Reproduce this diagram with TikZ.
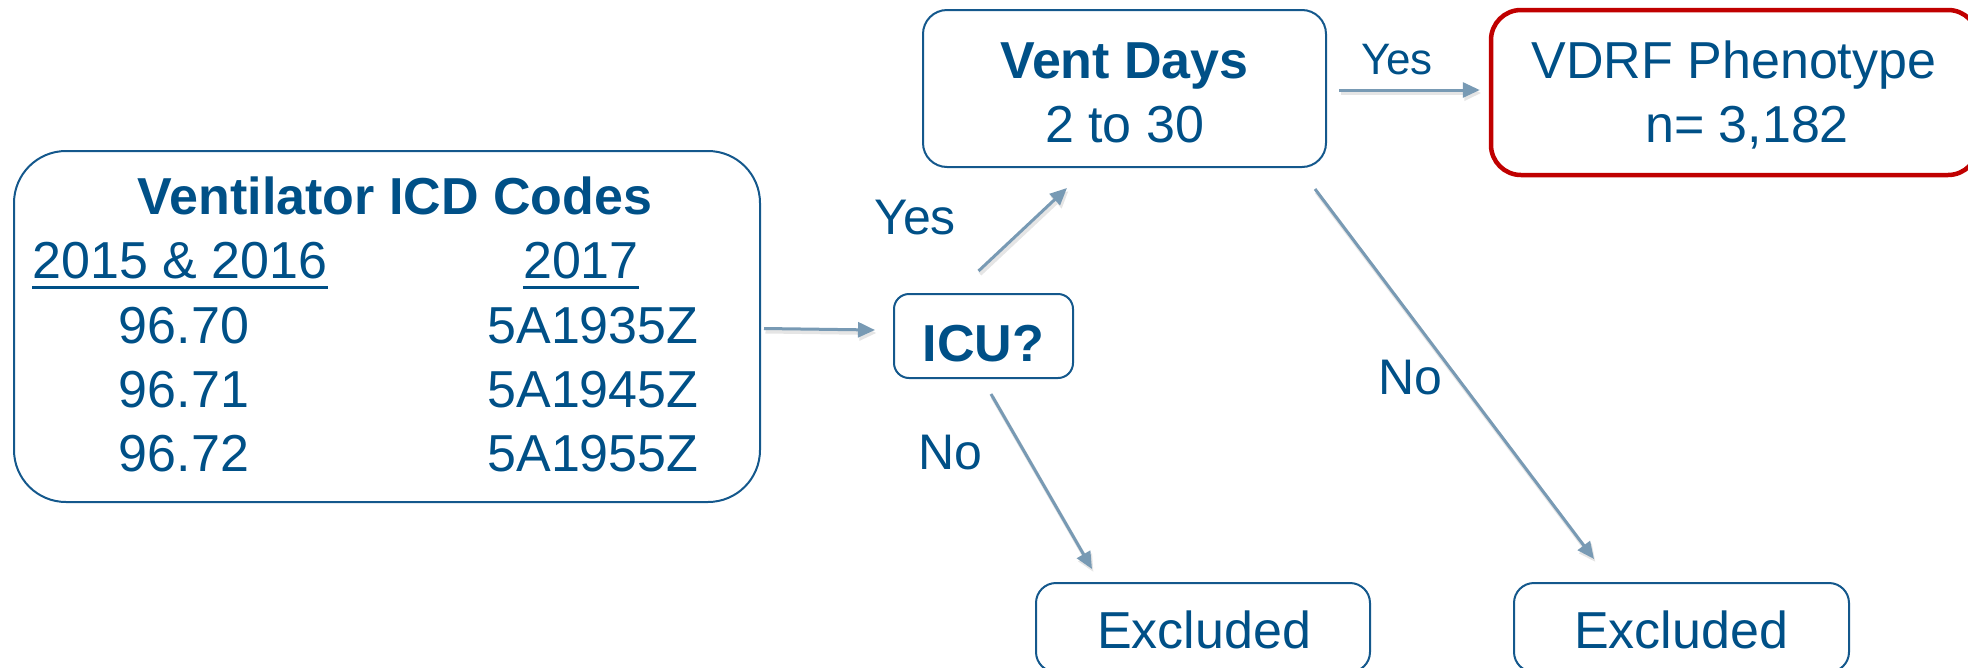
\documentclass[tikz,border=0pt]{standalone}
\usepackage{fontspec}
\setmainfont{Liberation Sans}
\usetikzlibrary{arrows.meta,calc}

\definecolor{inkblue}{RGB}{0,80,135}
\definecolor{edgeblue}{RGB}{20,88,140}
\definecolor{flowgray}{RGB}{120,154,180}
\definecolor{alertred}{RGB}{192,0,0}

\tikzset{
  box/.style={draw=edgeblue, line width=2pt, rounded corners=#1, inner sep=0pt},
  box/.default=24pt,
  txt/.style={text=inkblue, inner sep=0pt, anchor=base, font=\fontsize{52}{60}\selectfont},
  lbl/.style={txt, font=\fontsize{50}{60}\selectfont},
  smalllbl/.style={txt, font=\fontsize{44}{52}\selectfont},
  flow/.style={draw=flowgray, line width=3pt, -{Triangle[length=17pt,width=15pt]},
    preaction={draw=black!10, line width=4pt, transform canvas={xshift=1.5pt,yshift=-3pt}}},
  uline/.style={draw=inkblue, line width=3pt},
}

\begin{document}
\begin{tikzpicture}[x=1pt,y=-1pt]
\useasboundingbox (0,0) rectangle (1968,667);

% boxes
\node[box=52pt, minimum width=746pt, minimum height=351pt] (codes) at (387,326.5) {};
\node[box=15pt, minimum width=179pt, minimum height=84pt] (icu) at (983.5,336) {};
\node[box=24pt, minimum width=403pt, minimum height=157pt] (vent) at (1124.5,88.5) {};
\node[box=30pt, draw=alertred, line width=4.5pt, minimum width=487pt, minimum height=165pt] (vdrf) at (1734.5,92.5) {};
\node[box=20pt, minimum width=334pt, minimum height=89pt] (excl1) at (1203,627.5) {};
\node[box=20pt, minimum width=335pt, minimum height=89pt] (excl2) at (1681.5,627.5) {};

% code table
\node[txt] (codes-title) at (395,214) {\bfseries Ventilator ICD Codes};
\node[txt] (hdr-a) at (180,278) {2015 \& 2016};
\node[txt] (hdr-b) at (581,278) {2017};
\draw[uline] ($(hdr-a.base west)+(0,9)$) -- ($(hdr-a.base east)+(0,9)$);
\draw[uline] ($(hdr-b.base west)+(0,9)$) -- ($(hdr-b.base east)+(0,9)$);
\node[txt] (a1) at (184,343) {96.70};
\node[txt] (a2) at (184,407) {96.71};
\node[txt] (a3) at (184,471) {96.72};
\node[txt] (b1) at (593,343) {5A1935Z};
\node[txt] (b2) at (593,407) {5A1945Z};
\node[txt] (b3) at (593,471) {5A1955Z};

% box texts
\node[txt] (icu-t) at (983.5,361) {\bfseries ICU?};
\node[txt] (vent-t1) at (1124.5,78) {\bfseries Vent Days};
\node[txt] (vent-t2) at (1124.5,142) {2 to 30};
\node[txt] (vdrf-t1) at (1734,78) {VDRF Phenotype};
\node[txt] (vdrf-t2) at (1747,142) {n= 3,182};
\node[txt] (excl1-t) at (1204,648) {Excluded};
\node[txt] (excl2-t) at (1681,648) {Excluded};

% connectors
\draw[flow] ($(codes.east)+(3,2)$) -- ($(icu.west)+(-18,-6)$);
\draw[flow] ($(icu.north)+(-5,-22)$) -- ($(vent.south west)+(145,20)$);
\draw[flow] ($(icu.south)+(7.5,15)$) -- ($(excl1.north)+(-111,-13)$);
\draw[flow] ($(vent.south east)+(-12,21)$) -- ($(excl2.north)+(-87.5,-23)$);
\draw[flow] ($(vent.east)+(12,1.5)$) -- ($(vdrf.west)+(-9,-2.5)$);

% branch labels
\node[lbl] (yes-icu) at (915,234) {Yes};
\node[lbl] (no-icu) at (950,469) {No};
\node[lbl] (no-vent) at (1410,394) {No};
\node[smalllbl] (yes-vent) at (1397,74) {Yes};
\end{tikzpicture}
\end{document}
